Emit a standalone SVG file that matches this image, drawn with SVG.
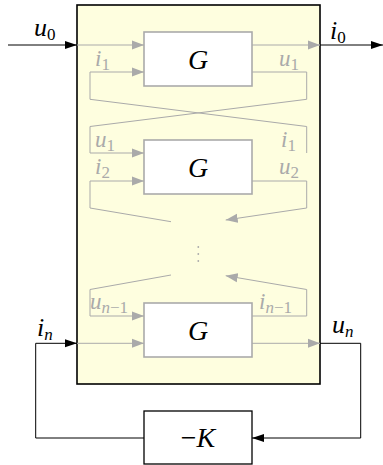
<svg xmlns="http://www.w3.org/2000/svg" width="383" height="465" viewBox="0 0 383 465">
<style>
.big{fill:#fefedf;stroke:#000;stroke-width:1.6}
.g{fill:#fff;stroke:#aaa;stroke-width:1.6}
.k{fill:#fff;stroke:#000;stroke-width:1.3}
.gl{fill:none;stroke:#aaa;stroke-width:1}
.bl{fill:none;stroke:#000;stroke-width:1}
.t{font-family:"Liberation Serif","DejaVu Serif",serif;font-style:italic;font-size:28px;fill:#000}
.lb{font-family:"Liberation Serif","DejaVu Serif",serif;font-style:italic;font-size:26px;fill:#000}
.lg{font-family:"Liberation Serif","DejaVu Serif",serif;font-style:italic;font-size:23px;fill:#aaa}
.s{font-size:17px;font-style:normal}
.si{font-size:17px}
</style>
<defs>
<marker id="ag" markerWidth="12" markerHeight="10" refX="12" refY="5" orient="auto" markerUnits="userSpaceOnUse"><path d="M0,0.5 L12,5 L0,9.5 Z" fill="#aaa"/></marker>
<marker id="ab" markerWidth="12" markerHeight="10" refX="12" refY="5" orient="auto" markerUnits="userSpaceOnUse"><path d="M0,1 L12,5 L0,9 Z" fill="#000"/></marker>
</defs>
<g id="system"><rect class="big" x="77" y="5" width="243" height="379"/></g>
<g id="G1"><rect class="g" x="144" y="32" width="108" height="54"/><text class="t" x="198" y="69" text-anchor="middle">G</text></g>
<g id="G2"><rect class="g" x="144" y="140" width="108" height="54"/><text class="t" x="198" y="177" text-anchor="middle">G</text></g>
<g id="G3"><rect class="g" x="144" y="303" width="108" height="54"/><text class="t" x="198" y="340" text-anchor="middle">G</text></g>
<g id="K"><rect class="k" x="144" y="411" width="108" height="53"/><text class="t" x="198" y="447" text-anchor="middle"><tspan font-style="normal">−</tspan>K</text></g>
<g id="connectors">
<path class="bl" d="M8,45 H77" marker-end="url(#ab)"/>
<path class="gl" d="M77,45 H144" marker-end="url(#ag)"/>
<path class="gl" d="M252,45 H320" marker-end="url(#ag)"/>
<path class="bl" d="M320,45 H383" marker-end="url(#ab)"/>
<path class="gl" d="M306.7,153 V126.5 L90,99.3 V72 H144" marker-end="url(#ag)"/>
<path class="gl" d="M252,72 H306.7 V99.3 L90,126.5 V153 H144" marker-end="url(#ag)"/>
<path class="gl" d="M171,221.7 L90,208 V181 H144" marker-end="url(#ag)"/>
<path class="gl" d="M252,181 H306.7 V208 L225.7,220" marker-end="url(#ag)"/>
<path class="gl" d="M171,275 L90,289.5 V316 H144" marker-end="url(#ag)"/>
<path class="gl" d="M252,316 H306.7 V289.5 L225.7,275.7" marker-end="url(#ag)"/>
<path class="gl" d="M77,343.3 H144" marker-end="url(#ag)"/>
<path class="gl" d="M252,343.3 H320" marker-end="url(#ag)"/>
<path class="bl" d="M320,343.3 H360.7 V438 H252" marker-end="url(#ab)"/>
<path class="bl" d="M144,438 H35.7 V343.3 H77" marker-end="url(#ab)"/>
<g fill="#aaa"><circle cx="198.3" cy="247" r="0.9"/><circle cx="198.3" cy="254" r="0.9"/><circle cx="198.3" cy="261" r="0.9"/></g>
</g>
<g id="labels">
<text class="lb" x="34" y="36">u<tspan class="s" dy="4">0</tspan></text>
<text class="lb" x="330" y="39">i<tspan class="s" dy="4">0</tspan></text>
<text class="lb" x="37" y="336">i<tspan class="si" dy="4">n</tspan></text>
<text class="lb" x="332" y="333">u<tspan class="si" dy="4">n</tspan></text>
<text class="lg" x="95" y="66">i<tspan class="s" dy="4">1</tspan></text>
<text class="lg" x="279" y="66">u<tspan class="s" dy="4">1</tspan></text>
<text class="lg" x="95" y="147">u<tspan class="s" dy="4">1</tspan></text>
<text class="lg" x="281" y="147">i<tspan class="s" dy="4">1</tspan></text>
<text class="lg" x="95" y="174">i<tspan class="s" dy="4">2</tspan></text>
<text class="lg" x="279" y="174">u<tspan class="s" dy="4">2</tspan></text>
<text class="lg" x="90" y="309">u<tspan class="si" dy="4">n</tspan><tspan class="s">−1</tspan></text>
<text class="lg" x="259" y="309">i<tspan class="si" dy="4">n</tspan><tspan class="s">−1</tspan></text>
</g>
</svg>
